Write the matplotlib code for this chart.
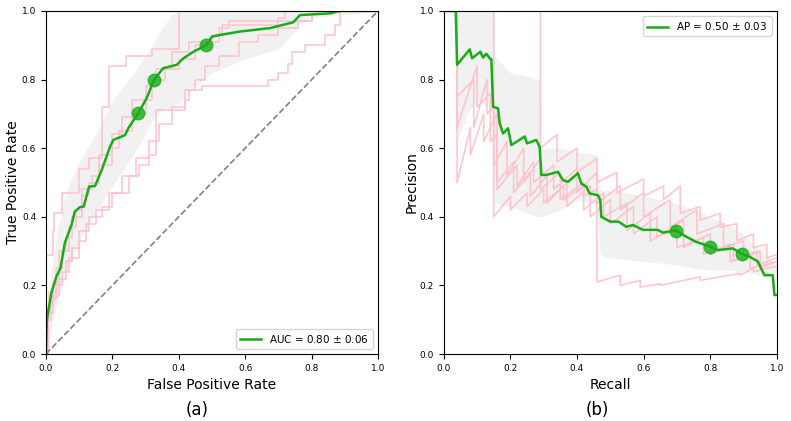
import matplotlib
matplotlib.use("Agg")
import matplotlib.pyplot as plt
import numpy as np

# ---- ROC: five folds (step curves, steps-pre: level y[i] over [x[i-1], x[i]])
roc_folds = [
    ([0, 0.02, 0.025, 0.05, 0.10, 0.13, 0.17, 0.19, 0.24, 0.32, 0.40, 1.0],
     [0, 0.29, 0.36, 0.41, 0.47, 0.54, 0.57, 0.72, 0.84, 0.87, 0.89, 1.0]),
    ([0, 0.005, 0.02, 0.04, 0.06, 0.08, 0.10, 0.13, 0.17, 0.20, 0.25, 0.28, 0.31, 0.33,
      0.42, 0.43, 0.47, 0.67, 0.70, 0.73, 0.74, 0.78, 0.84, 0.87, 0.885, 1.0],
     [0, 0, 0.12, 0.17, 0.22, 0.27, 0.31, 0.36, 0.40, 0.43, 0.47, 0.52, 0.55, 0.58,
      0.71, 0.74, 0.77, 0.78, 0.80, 0.82, 0.845, 0.88, 0.90, 0.93, 0.96, 1.0]),
    ([0, 0.01, 0.03, 0.05, 0.07, 0.09, 0.11, 0.14, 0.16, 0.20, 0.23, 0.26, 0.30, 0.33,
      0.38, 0.43, 0.52, 0.55, 0.80, 0.86, 1.0],
     [0, 0.10, 0.18, 0.25, 0.30, 0.37, 0.42, 0.48, 0.52, 0.58, 0.64, 0.69, 0.74, 0.78,
      0.83, 0.88, 0.91, 0.95, 0.97, 0.99, 1.0]),
    ([0, 0.005, 0.02, 0.04, 0.06, 0.08, 0.11, 0.13, 0.16, 0.20, 0.22, 0.26, 0.30, 0.32,
      0.36, 0.40, 0.45, 0.50, 0.53, 0.70, 0.72, 1.0],
     [0, 0.05, 0.14, 0.21, 0.30, 0.34, 0.40, 0.46, 0.50, 0.55, 0.60, 0.65, 0.70, 0.74,
      0.80, 0.83, 0.86, 0.90, 0.93, 0.96, 0.98, 1.0]),
    ([0, 0.005, 0.015, 0.03, 0.05, 0.07, 0.10, 0.12, 0.15, 0.19, 0.23, 0.27, 0.31, 0.34,
      0.38, 0.42, 0.45, 0.48, 0.52, 0.58, 0.64, 0.70, 0.76, 0.80, 1.0],
     [0, 0, 0.10, 0.16, 0.20, 0.24, 0.28, 0.33, 0.38, 0.42, 0.47, 0.52, 0.57, 0.62,
      0.67, 0.72, 0.77, 0.80, 0.84, 0.87, 0.91, 0.93, 0.95, 0.97, 1.0]),
]

mean_fpr = [0, 0.003, 0.01, 0.017, 0.032, 0.044, 0.057, 0.077, 0.087, 0.102, 0.114, 0.13,
            0.148, 0.168, 0.193, 0.203, 0.238, 0.248, 0.278, 0.303, 0.326, 0.353, 0.394,
            0.414, 0.444, 0.482, 0.50, 0.524, 0.584, 0.675, 0.745, 0.765, 0.855, 0.886, 1.0]
mean_tpr = [0, 0.10, 0.14, 0.18, 0.227, 0.25, 0.324, 0.376, 0.415, 0.428, 0.43, 0.488,
            0.49, 0.536, 0.604, 0.624, 0.638, 0.658, 0.702, 0.745, 0.80, 0.833, 0.843,
            0.862, 0.881, 0.90, 0.925, 0.93, 0.94, 0.95, 0.967, 0.988, 0.993, 1.0, 1.0]

band_fpr = [0, 0.005, 0.02, 0.035, 0.05, 0.072, 0.1, 0.15, 0.2, 0.25, 0.3, 0.32, 0.35,
            0.38, 0.4, 0.45, 0.5, 0.55, 0.6, 0.65, 0.7, 0.75, 0.77, 0.8, 0.9, 1.0]
band_tpr_hi = [0, 0.15, 0.27, 0.36, 0.43, 0.50, 0.56, 0.64, 0.74, 0.80, 0.87, 0.90, 0.95,
               0.99, 1.0, 1.0, 1.0, 1.0, 1.0, 1.0, 1.0, 1.0, 1.0, 1.0, 1.0, 1.0]
band_tpr_lo = [0, 0.02, 0.09, 0.15, 0.20, 0.26, 0.33, 0.41, 0.49, 0.56, 0.64, 0.68, 0.71,
               0.72, 0.73, 0.78, 0.82, 0.84, 0.86, 0.875, 0.89, 0.94, 0.97, 0.98, 0.99, 1.0]

roc_marks_x = [0.278, 0.326, 0.482]
roc_marks_y = [0.702, 0.80, 0.90]

# ---- PR: five folds (sawtooth)
pr_folds = [
    ([0, 0.29, 0.29, 0.34, 0.34, 0.40, 0.40, 0.46, 0.46, 0.52, 0.52, 0.60, 0.60, 0.66,
      0.66, 0.71, 0.71, 0.77, 0.77, 0.83, 0.83, 0.88, 0.88, 0.93, 0.93, 0.97, 0.97, 1.0],
     [1.0, 1.0, 0.60, 0.64, 0.56, 0.60, 0.53, 0.57, 0.50, 0.53, 0.47, 0.51, 0.46, 0.49,
      0.45, 0.49, 0.41, 0.43, 0.39, 0.41, 0.37, 0.38, 0.33, 0.35, 0.31, 0.32, 0.28, 0.29]),
    ([0, 0.15, 0.15, 0.20, 0.20, 0.25, 0.25, 0.30, 0.30, 0.36, 0.36, 0.42, 0.42, 0.46,
      0.46, 0.53, 0.53, 0.59, 0.59, 0.65, 0.65, 0.77, 0.77, 0.89, 0.89, 0.93, 0.93, 1.0],
     [1.0, 1.0, 0.40, 0.46, 0.42, 0.47, 0.43, 0.48, 0.44, 0.49, 0.45, 0.49, 0.46, 0.48,
      0.21, 0.23, 0.20, 0.215, 0.195, 0.205, 0.20, 0.225, 0.215, 0.235, 0.23, 0.25, 0.24, 0.256]),
    ([0, 0.04, 0.04, 0.08, 0.08, 0.12, 0.12, 0.16, 0.16, 0.21, 0.21, 0.26, 0.26, 0.31,
      0.31, 0.37, 0.37, 0.44, 0.44, 0.50, 0.50, 0.57, 0.57, 0.64, 0.64, 0.72, 0.72, 0.80,
      0.80, 0.87, 0.87, 0.94, 0.94, 1.0],
     [1.0, 1.0, 0.50, 0.66, 0.58, 0.70, 0.62, 0.70, 0.50, 0.56, 0.47, 0.53, 0.46, 0.52,
      0.44, 0.50, 0.43, 0.49, 0.40, 0.45, 0.38, 0.43, 0.35, 0.40, 0.34, 0.39, 0.31, 0.35,
      0.29, 0.32, 0.27, 0.30, 0.26, 0.28]),
    ([0, 0.04, 0.04, 0.10, 0.10, 0.14, 0.14, 0.16, 0.16, 0.22, 0.22, 0.27, 0.27, 0.33,
      0.33, 0.40, 0.40, 0.46, 0.46, 0.53, 0.53, 0.60, 0.60, 0.68, 0.68, 0.76, 0.76, 0.84,
      0.84, 0.90, 0.90, 0.95, 0.95, 1.0],
     [1.0, 1.0, 0.66, 0.84, 0.72, 0.76, 0.62, 0.64, 0.48, 0.55, 0.49, 0.56, 0.50, 0.55,
      0.48, 0.54, 0.47, 0.53, 0.44, 0.49, 0.42, 0.47, 0.40, 0.45, 0.37, 0.42, 0.35, 0.38,
      0.31, 0.33, 0.28, 0.30, 0.25, 0.27]),
    ([0, 0.04, 0.04, 0.09, 0.09, 0.13, 0.13, 0.15, 0.15, 0.19, 0.19, 0.24, 0.24, 0.29,
      0.29, 0.35, 0.35, 0.42, 0.42, 0.48, 0.48, 0.55, 0.55, 0.62, 0.62, 0.70, 0.70, 0.78,
      0.78, 0.86, 0.86, 0.92, 0.92, 1.0],
     [1.0, 1.0, 0.75, 0.80, 0.66, 0.80, 0.70, 0.72, 0.55, 0.62, 0.52, 0.60, 0.50, 0.57,
      0.48, 0.53, 0.45, 0.50, 0.42, 0.47, 0.40, 0.44, 0.36, 0.41, 0.33, 0.37, 0.31, 0.34,
      0.29, 0.32, 0.27, 0.29, 0.25, 0.27]),
]

mean_rec = [0, 0.036, 0.04, 0.078, 0.085, 0.11, 0.118, 0.128, 0.138, 0.143, 0.148, 0.163,
            0.168, 0.178, 0.193, 0.203, 0.243, 0.25, 0.278, 0.288, 0.293, 0.308, 0.343,
            0.358, 0.373, 0.403, 0.413, 0.428, 0.438, 0.463, 0.47, 0.473, 0.50, 0.525,
            0.548, 0.568, 0.598, 0.643, 0.658, 0.698, 0.728, 0.758, 0.80, 0.823, 0.868,
            0.895, 0.918, 0.943, 0.963, 0.988, 0.993, 1.0]
mean_prec = [1.0, 1.0, 0.843, 0.888, 0.862, 0.881, 0.864, 0.875, 0.862, 0.859, 0.721, 0.716,
             0.672, 0.643, 0.658, 0.609, 0.634, 0.614, 0.624, 0.604, 0.522, 0.522, 0.531,
             0.507, 0.502, 0.527, 0.497, 0.488, 0.468, 0.463, 0.449, 0.40, 0.386, 0.386,
             0.371, 0.376, 0.362, 0.362, 0.354, 0.36, 0.342, 0.327, 0.313, 0.303, 0.308,
             0.292, 0.284, 0.27, 0.23, 0.23, 0.172, 0.172]

band_rec = [0, 0.04, 0.041, 0.07, 0.10, 0.13, 0.15, 0.151, 0.20, 0.25, 0.29, 0.291, 0.35,
            0.40, 0.46, 0.47, 0.50, 0.55, 0.60, 0.65, 0.70, 0.75, 0.80, 0.85, 0.90, 0.95, 1.0]
band_prec_hi = [1.0, 1.0, 1.0, 1.0, 1.0, 1.0, 1.0, 0.87, 0.82, 0.81, 0.80, 0.60, 0.60,
                0.59, 0.58, 0.48, 0.475, 0.47, 0.46, 0.45, 0.44, 0.42, 0.40, 0.38, 0.35, 0.30, 0.26]
band_prec_lo = [1.0, 1.0, 0.62, 0.70, 0.74, 0.72, 0.70, 0.44, 0.43, 0.41, 0.40, 0.40, 0.42,
                0.45, 0.44, 0.29, 0.28, 0.275, 0.27, 0.265, 0.26, 0.25, 0.245, 0.245, 0.24, 0.23, 0.21]

pr_marks_x = [0.698, 0.80, 0.895]
pr_marks_y = [0.36, 0.313, 0.292]

green = "#17ad17"

fig = plt.figure(figsize=(7.91, 4.21), dpi=100)
ax1 = fig.add_axes([0.058, 0.159, 0.42, 0.815])
ax2 = fig.add_axes([0.561, 0.159, 0.421, 0.815])

# ROC
for fx, fy in roc_folds:
    ax1.plot(fx, fy, color="pink", lw=1.2, alpha=0.9, drawstyle="steps-pre")
ax1.fill_between(band_fpr, band_tpr_lo, band_tpr_hi, color="grey", alpha=0.11, lw=0)
ax1.plot([0, 1], [0, 1], "--", color="grey", lw=1.2)
ax1.plot(mean_fpr, mean_tpr, color=green, lw=1.8, label="AUC = 0.80 $\\pm$ 0.06")
ax1.plot(roc_marks_x, roc_marks_y, "o", color=green, ms=9, alpha=0.8)
ax1.set_xlim(0, 1)
ax1.set_ylim(0, 1)
ax1.set_xlabel("False Positive Rate", fontsize=10)
ax1.set_ylabel("True Positive Rate", fontsize=10, labelpad=1)
ax1.legend(loc="lower right", fontsize=7.5)

# PR
for rx, ry in pr_folds:
    ax2.plot(rx, ry, color="pink", lw=1.2, alpha=0.9)
ax2.fill_between(band_rec, band_prec_lo, band_prec_hi, color="grey", alpha=0.11, lw=0)
ax2.plot(mean_rec, mean_prec, color=green, lw=1.8, label="AP = 0.50 $\\pm$ 0.03")
ax2.plot(pr_marks_x, pr_marks_y, "o", color=green, ms=9, alpha=0.8)
ax2.set_xlim(0, 1)
ax2.set_ylim(0, 1)
ax2.set_xlabel("Recall", fontsize=10)
ax2.set_ylabel("Precision", fontsize=10, labelpad=1)
ax2.legend(loc="upper right", fontsize=7.5)

for ax in (ax1, ax2):
    ax.tick_params(labelsize=6.5)

fig.text(0.249, 0.025, "(a)", fontsize=12, ha="center", va="center")
fig.text(0.755, 0.025, "(b)", fontsize=12, ha="center", va="center")

fig.savefig("out.png", dpi=100)
